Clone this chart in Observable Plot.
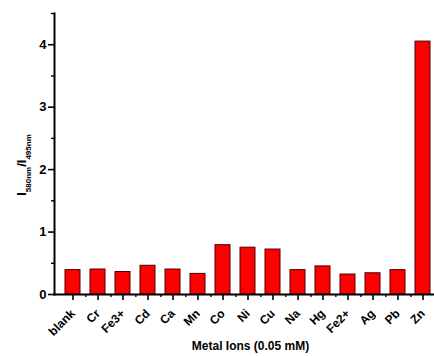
<!DOCTYPE html>
<html>
<head>
<meta charset="utf-8">
<script src="https://cdn.jsdelivr.net/npm/d3@7"></script>
<script src="https://cdn.jsdelivr.net/npm/@observablehq/plot@0.6"></script>
<style>
  html, body { margin: 0; padding: 0; background: #fff; overflow: hidden; }
</style>
</head>
<body>
<div id="chart"></div>
<script>
const categories = ["blank","Cr","Fe3+","Cd","Ca","Mn","Co","Ni","Cu","Na","Hg","Fe2+","Ag","Pb","Zn"];
const values = [0.39,0.40,0.36,0.46,0.40,0.33,0.79,0.75,0.72,0.39,0.45,0.32,0.34,0.39,4.05];
const majorYTicks = [0,1,2,3,4];
const minorYTicks = [0.5,1.5,2.5,3.5,4.5];
const xTitle = "Metal Ions (0.05 mM)";

const data = categories.map((c, i) => ({ion: c, value: values[i]}));

const W = 442, ML = 54, MR = 0, PI = 0.39, PO = 0.23;
const step = (W - ML - MR) / (categories.length - PI + 2 * PO);

const plot = Plot.plot({
  width: W,
  height: 356,
  marginLeft: ML,
  marginRight: MR,
  marginTop: 13,
  marginBottom: 62,
  style: {fontFamily: "'Liberation Sans', Arial, sans-serif", fontWeight: "bold", fontSize: "12px", color: "#000", background: "#fff"},
  x: {domain: categories, paddingInner: PI, paddingOuter: PO, label: null},
  y: {domain: [0, 4.5], label: null},
  marks: [
    Plot.barY(data, {x: "ion", y: "value", fill: "#ff0000", stroke: "#4a0000", strokeWidth: 1}),
    Plot.axisY({ticks: majorYTicks, tickFormat: d => String(d), tickSize: 6, tickPadding: 2, strokeWidth: 1.6, fontSize: 13, label: null}),
    Plot.axisY({ticks: minorYTicks, tickSize: 3, strokeWidth: 1.4, text: null, label: null}),
    Plot.axisX({tickSize: 6, tickPadding: 11, strokeWidth: 1.6, tickRotate: -45, fontSize: 12, label: null}),
    Plot.axisX({tickSize: 3, strokeWidth: 1.4, text: null, label: null, dx: step / 2}),
    Plot.frame({anchor: "left", strokeWidth: 2}),
    Plot.frame({anchor: "bottom", strokeWidth: 2}),
    Plot.text([xTitle], {frameAnchor: "bottom", dy: 55, dx: 2, fontSize: 12, fontWeight: "bold"})
  ]
});
plot.style.maxWidth = "none";
plot.style.height = "356px";

const svg = d3.select(plot);
const lab = svg.append("text")
  .attr("transform", "translate(26,165) rotate(-90)")
  .attr("text-anchor", "middle")
  .attr("font-family", "'Liberation Sans', Arial, sans-serif")
  .attr("font-weight", "bold")
  .attr("fill", "#000");
lab.append("tspan").attr("font-size", 13).text("I");
lab.append("tspan").attr("font-size", 8).attr("dy", 5).text("580nm");
lab.append("tspan").attr("font-size", 13).attr("dy", -5).text("/I");
lab.append("tspan").attr("font-size", 8).attr("dy", 5).text("495nm");

document.getElementById("chart").appendChild(plot);
</script>
</body>
</html>
